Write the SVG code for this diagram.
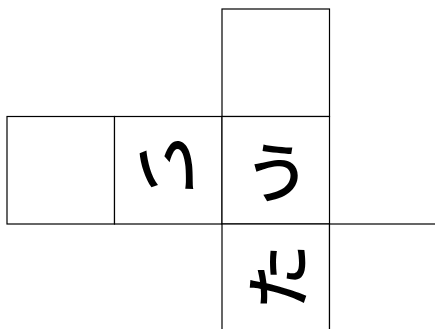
<svg xmlns="http://www.w3.org/2000/svg" width="435" height="329" viewBox="0 0 435 329">
<style>
.face{fill:#fff;stroke:#000;stroke-width:1.2}
.t{font-family:"Noto Sans CJK JP","Noto Sans CJK SC",sans-serif;font-size:66px;font-weight:500;text-anchor:middle;dominant-baseline:central;fill:#000}
</style>
<rect width="435" height="329" fill="#fff"/>
<g id="face-top"><rect class="face" x="222" y="9" width="107.5" height="107.5"/></g>
<g id="face-left"><rect class="face" x="7" y="116.5" width="107.5" height="107.5"/></g>
<g id="face-i"><rect class="face" x="114.5" y="116.5" width="107.5" height="107.5"/><text class="t" x="168" y="171" transform="rotate(180 168 171)">い</text></g>
<g id="face-u"><rect class="face" x="222" y="116.5" width="107.5" height="107.5"/><text class="t" x="277" y="168">う</text></g>
<g id="face-ta"><rect class="face" x="222" y="224" width="107.5" height="107.5"/><text class="t" x="274" y="277" transform="rotate(-90 274 277)">た</text></g>
<g id="face-right"><rect class="face" x="329.5" y="224" width="107.5" height="107.5"/></g>
<g id="connectors"></g>
</svg>
